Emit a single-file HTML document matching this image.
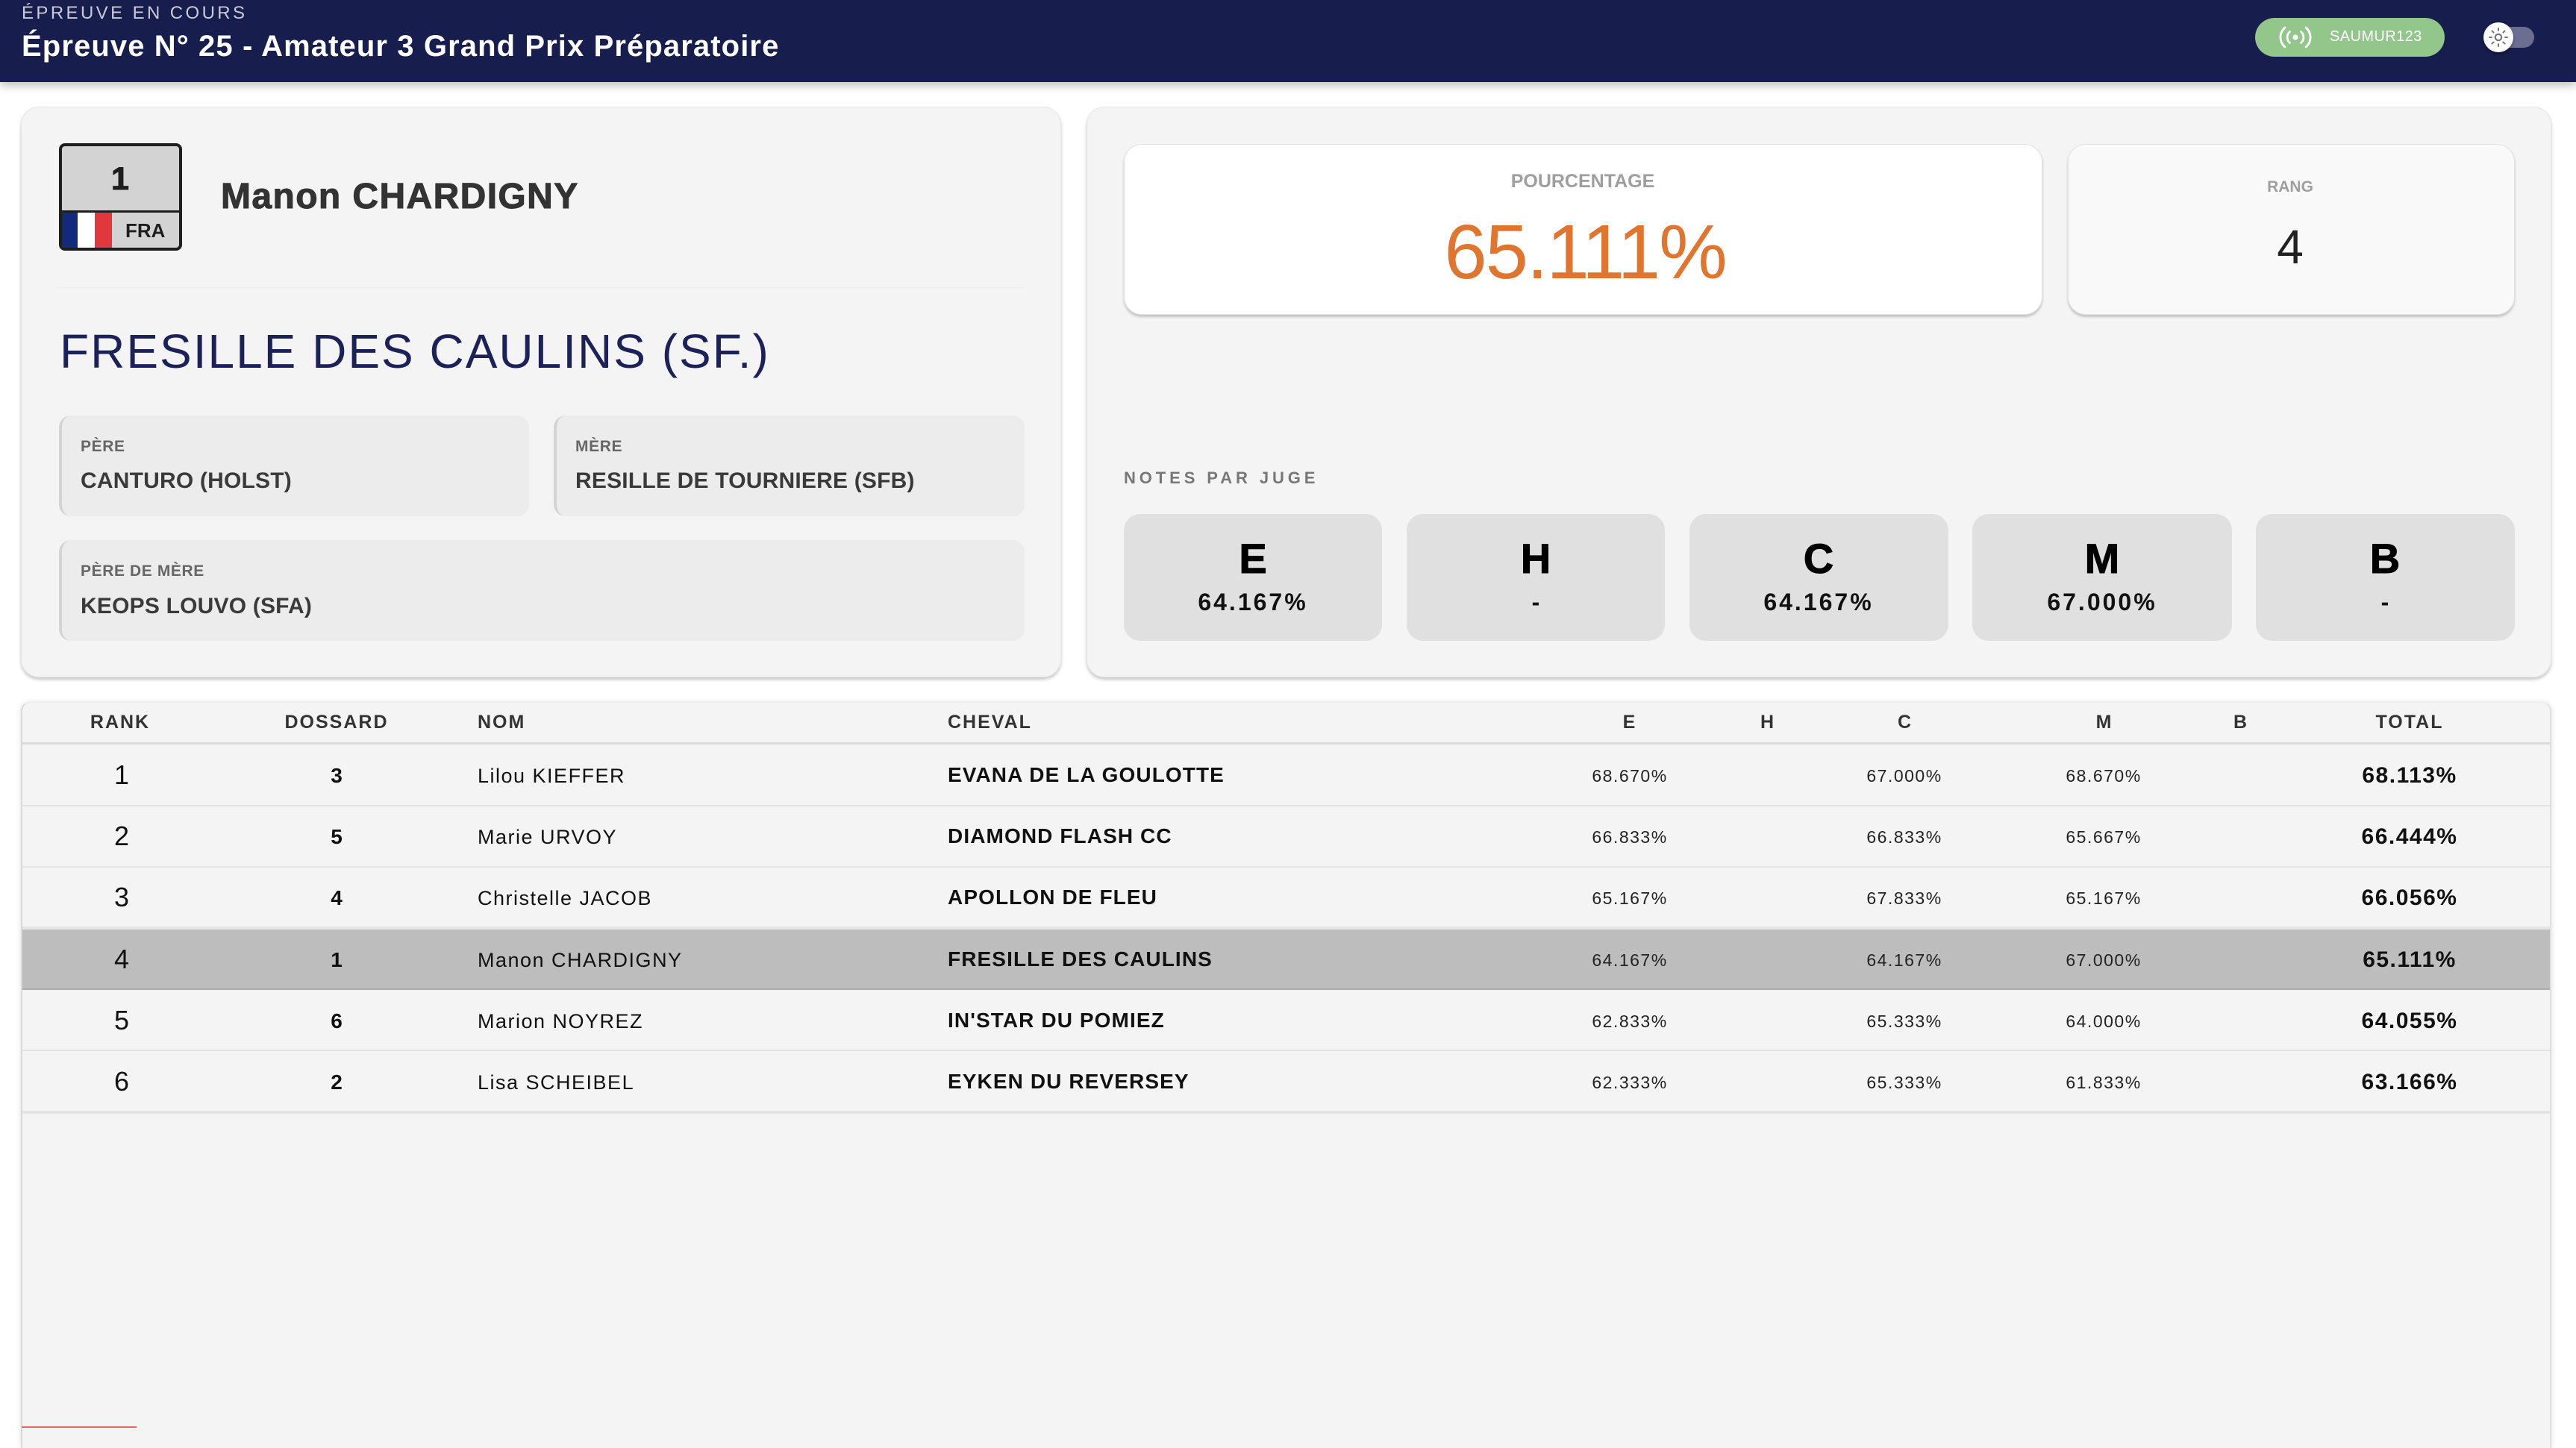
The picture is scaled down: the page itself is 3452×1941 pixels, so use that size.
<!DOCTYPE html>
<html><head><meta charset="utf-8">
<style>
*{margin:0;padding:0;box-sizing:border-box}
html,body{width:3452px;height:1914px;overflow:hidden;background:#fff;font-family:"Liberation Sans",Arial,sans-serif}
.a{position:absolute}
.t{position:absolute;line-height:1;white-space:nowrap}
.c{transform:translateX(-50%)}
.b{font-weight:bold}
.k{-webkit-text-stroke:1px currentColor}
</style></head><body>

<!-- header -->
<div class="a" style="left:0;top:0;width:3452px;height:110px;background:#171d4c;box-shadow:0 4px 12px rgba(0,0,0,.28);z-index:2"></div>
<div class="t" style="z-index:3;left:29px;top:6px;font-size:24px;letter-spacing:3.4px;color:#c9cbd8">ÉPREUVE EN COURS</div>
<div class="t b" style="z-index:3;left:29px;top:42px;font-size:40px;letter-spacing:1.1px;color:#fff">Épreuve N° 25 - Amateur 3 Grand Prix Préparatoire</div>
<div class="a" style="z-index:3;left:3022px;top:24px;width:254px;height:52px;border-radius:26px;background:#93c68b"></div>
<svg class="a" style="z-index:4;left:3052px;top:34px" width="48" height="32" viewBox="0 0 48 32">
<circle cx="24" cy="16" r="3.6" fill="#fff"/>
<path d="M16.5 8.5 A10 10 0 0 0 16.5 23.5 M31.5 8.5 A10 10 0 0 1 31.5 23.5" stroke="#fff" stroke-width="2.8" fill="none" stroke-linecap="round"/>
<path d="M10 3 A17 17 0 0 0 10 29 M38 3 A17 17 0 0 1 38 29" stroke="#fff" stroke-width="2.8" fill="none" stroke-linecap="round"/>
</svg>
<div class="t" style="z-index:4;left:3122px;top:39px;font-size:20px;letter-spacing:0.4px;color:#fff">SAUMUR123</div>
<div class="a" style="z-index:3;left:3337px;top:36px;width:59px;height:28px;border-radius:14px;background:#6b6e91"></div>
<div class="a" style="z-index:4;left:3328px;top:30px;width:40px;height:40px;border-radius:20px;background:#fff;box-shadow:0 2px 4px rgba(0,0,0,.35)"></div>
<svg class="a" style="z-index:5;left:3328px;top:30px" width="40" height="40" viewBox="0 0 40 40">
<circle cx="20" cy="20" r="4.2" stroke="#777" stroke-width="2.2" fill="none"/>
<g stroke="#777" stroke-width="2" stroke-linecap="round">
<line x1="20" y1="8" x2="20" y2="11"/><line x1="20" y1="29" x2="20" y2="32"/>
<line x1="8" y1="20" x2="11" y2="20"/><line x1="29" y1="20" x2="32" y2="20"/>
<line x1="11.5" y1="11.5" x2="13.6" y2="13.6"/><line x1="26.4" y1="26.4" x2="28.5" y2="28.5"/>
<line x1="28.5" y1="11.5" x2="26.4" y2="13.6"/><line x1="13.6" y1="26.4" x2="11.5" y2="28.5"/>
</g></svg>

<!-- left card -->
<div class="a" style="left:28px;top:143px;width:1394px;height:765px;border-radius:24px;background:#f4f4f4;border:1px solid #e6e6e6;box-shadow:0 3px 4px rgba(0,0,0,.22)"></div>
<!-- bib -->
<div class="a" style="left:79px;top:192px;width:165px;height:144px;border:4px solid #1e1e1e;border-radius:8px;background:#d3d3d3"></div>
<div class="a" style="left:83px;top:282px;width:157px;height:3px;background:#1e1e1e"></div>
<div class="a" style="left:83px;top:285px;width:21px;height:47px;background:#132a7c"></div>
<div class="a" style="left:104px;top:285px;width:23px;height:47px;background:#fff"></div>
<div class="a" style="left:127px;top:285px;width:23px;height:47px;background:#e1383e"></div>
<div class="t b c k" style="left:161px;top:219px;font-size:43px;color:#1e1e1e">1</div>
<div class="t b" style="left:168px;top:296px;font-size:26px;color:#1e1e1e">FRA</div>
<div class="t b k" style="left:296px;top:240px;font-size:48px;letter-spacing:1.4px;color:#333">Manon CHARDIGNY</div>
<div class="a" style="left:76px;top:385px;width:1296px;height:1px;background:#eeeeee"></div>
<div class="t" style="left:80px;top:439px;font-size:64px;letter-spacing:2px;color:#1c2257">FRESILLE DES CAULINS (SF.)</div>

<div class="a" style="left:79px;top:557px;width:630px;height:135px;border-radius:16px;background:#ececec;border-left:4px solid #d4d4d4"></div>
<div class="a" style="left:742px;top:557px;width:631px;height:135px;border-radius:16px;background:#ececec;border-left:4px solid #d4d4d4"></div>
<div class="a" style="left:79px;top:724px;width:1294px;height:135px;border-radius:16px;background:#ececec;border-left:4px solid #d4d4d4"></div>
<div class="t b" style="left:108px;top:588px;font-size:21px;letter-spacing:0.6px;color:#666">PÈRE</div>
<div class="t b" style="left:108px;top:630px;font-size:30px;letter-spacing:0.2px;color:#3a3a3a">CANTURO (HOLST)</div>
<div class="t b" style="left:771px;top:588px;font-size:21px;letter-spacing:0.6px;color:#666">MÈRE</div>
<div class="t b" style="left:771px;top:630px;font-size:30px;letter-spacing:0.2px;color:#3a3a3a">RESILLE DE TOURNIERE (SFB)</div>
<div class="t b" style="left:108px;top:755px;font-size:21px;letter-spacing:0.6px;color:#666">PÈRE DE MÈRE</div>
<div class="t b" style="left:108px;top:798px;font-size:30px;letter-spacing:0.2px;color:#3a3a3a">KEOPS LOUVO (SFA)</div>

<!-- right card -->
<div class="a" style="left:1456px;top:143px;width:1963px;height:765px;border-radius:24px;background:#f4f4f4;border:1px solid #e6e6e6;box-shadow:0 3px 4px rgba(0,0,0,.22)"></div>
<div class="a" style="left:1506px;top:193px;width:1231px;height:229px;border-radius:24px;background:#fff;border:1px solid #e2e2e2;box-shadow:0 3px 3px rgba(0,0,0,.2)"></div>
<div class="t b c" style="left:2121px;top:231px;font-size:25px;color:#9e9e9e">POURCENTAGE</div>
<div class="t c" style="left:2124px;top:286px;font-size:103px;letter-spacing:-2px;color:#e07530">65.111%</div>
<div class="a" style="left:2771px;top:193px;width:599px;height:229px;border-radius:24px;background:#f9f9f9;border:1px solid #e2e2e2;box-shadow:0 3px 3px rgba(0,0,0,.2)"></div>
<div class="t b c" style="left:3069px;top:240px;font-size:21px;color:#9e9e9e">RANG</div>
<div class="t c" style="left:3069px;top:299px;font-size:64px;color:#222">4</div>

<div class="t b" style="left:1506px;top:630px;font-size:22px;letter-spacing:4.9px;color:#777">NOTES PAR JUGE</div>

<div class="a" style="left:1506px;top:689px;width:346px;height:170px;border-radius:22px;background:#e0e0e0"></div>
<div class="a" style="left:1885px;top:689px;width:346px;height:170px;border-radius:22px;background:#e0e0e0"></div>
<div class="a" style="left:2264px;top:689px;width:347px;height:170px;border-radius:22px;background:#e0e0e0"></div>
<div class="a" style="left:2643px;top:689px;width:348px;height:170px;border-radius:22px;background:#e0e0e0"></div>
<div class="a" style="left:3023px;top:689px;width:347px;height:170px;border-radius:22px;background:#e0e0e0"></div>
<div class="t b c k" style="left:1679px;top:721px;font-size:56px;color:#000">E</div>
<div class="t b c k" style="left:2058px;top:721px;font-size:56px;color:#000">H</div>
<div class="t b c k" style="left:2437px;top:721px;font-size:56px;color:#000">C</div>
<div class="t b c k" style="left:2817px;top:721px;font-size:56px;color:#000">M</div>
<div class="t b c k" style="left:3196px;top:721px;font-size:56px;color:#000">B</div>
<div class="t b c" style="left:1679px;top:791px;font-size:32px;letter-spacing:3px;color:#111">64.167%</div>
<div class="t b c" style="left:2058px;top:791px;font-size:32px;color:#111">-</div>
<div class="t b c" style="left:2437px;top:791px;font-size:32px;letter-spacing:3px;color:#111">64.167%</div>
<div class="t b c" style="left:2817px;top:791px;font-size:32px;letter-spacing:3px;color:#111">67.000%</div>
<div class="t b c" style="left:3196px;top:791px;font-size:32px;color:#111">-</div>

<!-- table card -->
<div class="a" style="left:28px;top:941px;width:3391px;height:1000px;border-radius:12px 12px 0 0;background:#f4f4f4;border-left:2px solid #d9d9d9;border-right:2px solid #e0e0e0;border-top:1px solid #ececec;box-shadow:0 0 8px rgba(0,0,0,.12)"></div>
<div class="t b c" style="left:161px;top:956px;font-size:25px;letter-spacing:2px;color:#333">RANK</div>
<div class="t b c" style="left:451px;top:956px;font-size:25px;letter-spacing:2px;color:#333">DOSSARD</div>
<div class="t b" style="left:640px;top:956px;font-size:25px;letter-spacing:2px;color:#333">NOM</div>
<div class="t b" style="left:1270px;top:956px;font-size:25px;letter-spacing:2px;color:#333">CHEVAL</div>
<div class="t b c" style="left:2183px;top:956px;font-size:25px;color:#333">E</div>
<div class="t b c" style="left:2368px;top:956px;font-size:25px;color:#333">H</div>
<div class="t b c" style="left:2552px;top:956px;font-size:25px;color:#333">C</div>
<div class="t b c" style="left:2819px;top:956px;font-size:25px;color:#333">M</div>
<div class="t b c" style="left:3002px;top:956px;font-size:25px;color:#333">B</div>
<div class="t b c" style="left:3229px;top:956px;font-size:25px;letter-spacing:2px;color:#333">TOTAL</div>
<div class="a" style="left:30px;top:995px;width:3387px;height:3px;background:#dcdcdc"></div>

<!-- rows -->
<div class="a" style="left:30px;top:1079px;width:3387px;height:2px;background:#e4e4e4"></div>
<div class="a" style="left:30px;top:1161px;width:3387px;height:2px;background:#e4e4e4"></div>
<div class="a" style="left:30px;top:1242px;width:3387px;height:4px;background:#e4e4e4"></div>
<div class="a" style="left:30px;top:1246px;width:3387px;height:79px;background:#bdbdbd"></div>
<div class="a" style="left:30px;top:1325px;width:3387px;height:2px;background:#ababab"></div>
<div class="a" style="left:30px;top:1407px;width:3387px;height:2px;background:#e4e4e4"></div>
<div class="a" style="left:30px;top:1489px;width:3387px;height:4px;background:#e4e4e4"></div>

<!-- row 1 top 998 -->
<div class="t c" style="left:163px;top:1021px;font-size:36px;color:#111">1</div>
<div class="t b c" style="left:451px;top:1026px;font-size:28px;color:#111">3</div>
<div class="t" style="left:640px;top:1027px;font-size:27px;letter-spacing:1.5px;color:#111">Lilou KIEFFER</div>
<div class="t b" style="left:1270px;top:1025px;font-size:28px;letter-spacing:1.1px;color:#111">EVANA DE LA GOULOTTE</div>
<div class="t c" style="left:2184px;top:1029px;font-size:23px;letter-spacing:1.5px;color:#222">68.670%</div>
<div class="t c" style="left:2552px;top:1029px;font-size:23px;letter-spacing:1.5px;color:#222">67.000%</div>
<div class="t c" style="left:2819px;top:1029px;font-size:23px;letter-spacing:1.5px;color:#222">68.670%</div>
<div class="t b c" style="left:3229px;top:1025px;font-size:30px;letter-spacing:1.5px;color:#111">68.113%</div>

<!-- row 2 top 1081 -->
<div class="t c" style="left:163px;top:1103px;font-size:36px;color:#111">2</div>
<div class="t b c" style="left:451px;top:1108px;font-size:28px;color:#111">5</div>
<div class="t" style="left:640px;top:1109px;font-size:27px;letter-spacing:1.5px;color:#111">Marie URVOY</div>
<div class="t b" style="left:1270px;top:1107px;font-size:28px;letter-spacing:1.1px;color:#111">DIAMOND FLASH CC</div>
<div class="t c" style="left:2184px;top:1111px;font-size:23px;letter-spacing:1.5px;color:#222">66.833%</div>
<div class="t c" style="left:2552px;top:1111px;font-size:23px;letter-spacing:1.5px;color:#222">66.833%</div>
<div class="t c" style="left:2819px;top:1111px;font-size:23px;letter-spacing:1.5px;color:#222">65.667%</div>
<div class="t b c" style="left:3229px;top:1107px;font-size:30px;letter-spacing:1.5px;color:#111">66.444%</div>

<!-- row 3 top 1163 -->
<div class="t c" style="left:163px;top:1185px;font-size:36px;color:#111">3</div>
<div class="t b c" style="left:451px;top:1190px;font-size:28px;color:#111">4</div>
<div class="t" style="left:640px;top:1191px;font-size:27px;letter-spacing:1.5px;color:#111">Christelle JACOB</div>
<div class="t b" style="left:1270px;top:1189px;font-size:28px;letter-spacing:1.1px;color:#111">APOLLON DE FLEU</div>
<div class="t c" style="left:2184px;top:1193px;font-size:23px;letter-spacing:1.5px;color:#222">65.167%</div>
<div class="t c" style="left:2552px;top:1193px;font-size:23px;letter-spacing:1.5px;color:#222">67.833%</div>
<div class="t c" style="left:2819px;top:1193px;font-size:23px;letter-spacing:1.5px;color:#222">65.167%</div>
<div class="t b c" style="left:3229px;top:1189px;font-size:30px;letter-spacing:1.5px;color:#111">66.056%</div>

<!-- row 4 top 1246 -->
<div class="t c" style="left:163px;top:1268px;font-size:36px;color:#111">4</div>
<div class="t b c" style="left:451px;top:1273px;font-size:28px;color:#111">1</div>
<div class="t" style="left:640px;top:1274px;font-size:27px;letter-spacing:1.5px;color:#111">Manon CHARDIGNY</div>
<div class="t b" style="left:1270px;top:1272px;font-size:28px;letter-spacing:1.1px;color:#111">FRESILLE DES CAULINS</div>
<div class="t c" style="left:2184px;top:1276px;font-size:23px;letter-spacing:1.5px;color:#222">64.167%</div>
<div class="t c" style="left:2552px;top:1276px;font-size:23px;letter-spacing:1.5px;color:#222">64.167%</div>
<div class="t c" style="left:2819px;top:1276px;font-size:23px;letter-spacing:1.5px;color:#222">67.000%</div>
<div class="t b c" style="left:3229px;top:1272px;font-size:30px;letter-spacing:1.5px;color:#111">65.111%</div>

<!-- row 5 top 1327 -->
<div class="t c" style="left:163px;top:1350px;font-size:36px;color:#111">5</div>
<div class="t b c" style="left:451px;top:1355px;font-size:28px;color:#111">6</div>
<div class="t" style="left:640px;top:1356px;font-size:27px;letter-spacing:1.5px;color:#111">Marion NOYREZ</div>
<div class="t b" style="left:1270px;top:1354px;font-size:28px;letter-spacing:1.1px;color:#111">IN'STAR DU POMIEZ</div>
<div class="t c" style="left:2184px;top:1358px;font-size:23px;letter-spacing:1.5px;color:#222">62.833%</div>
<div class="t c" style="left:2552px;top:1358px;font-size:23px;letter-spacing:1.5px;color:#222">65.333%</div>
<div class="t c" style="left:2819px;top:1358px;font-size:23px;letter-spacing:1.5px;color:#222">64.000%</div>
<div class="t b c" style="left:3229px;top:1354px;font-size:30px;letter-spacing:1.5px;color:#111">64.055%</div>

<!-- row 6 top 1409 -->
<div class="t c" style="left:163px;top:1432px;font-size:36px;color:#111">6</div>
<div class="t b c" style="left:451px;top:1437px;font-size:28px;color:#111">2</div>
<div class="t" style="left:640px;top:1438px;font-size:27px;letter-spacing:1.5px;color:#111">Lisa SCHEIBEL</div>
<div class="t b" style="left:1270px;top:1436px;font-size:28px;letter-spacing:1.1px;color:#111">EYKEN DU REVERSEY</div>
<div class="t c" style="left:2184px;top:1440px;font-size:23px;letter-spacing:1.5px;color:#222">62.333%</div>
<div class="t c" style="left:2552px;top:1440px;font-size:23px;letter-spacing:1.5px;color:#222">65.333%</div>
<div class="t c" style="left:2819px;top:1440px;font-size:23px;letter-spacing:1.5px;color:#222">61.833%</div>
<div class="t b c" style="left:3229px;top:1436px;font-size:30px;letter-spacing:1.5px;color:#111">63.166%</div>

<div class="a" style="left:29px;top:1912px;width:154px;height:2px;background:#e06666"></div>
</body></html>
